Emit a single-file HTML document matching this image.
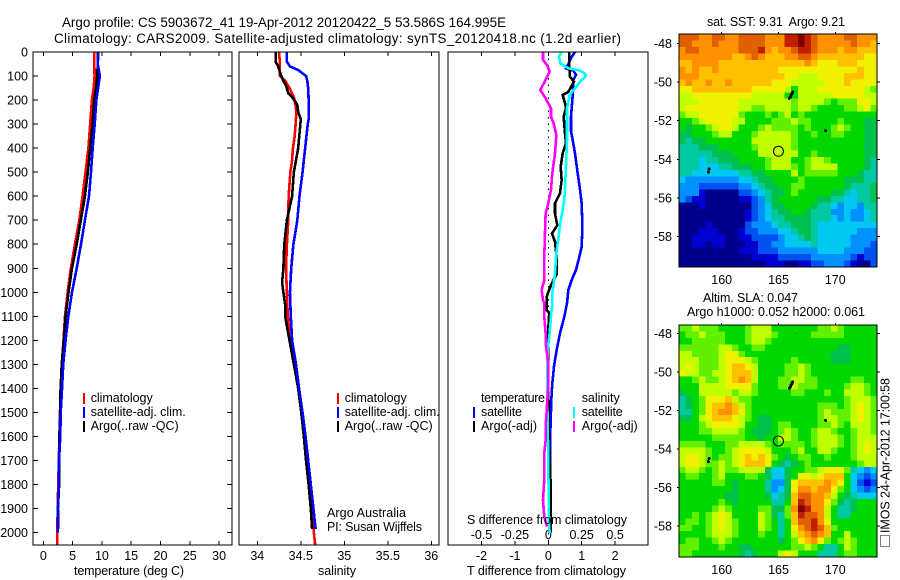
<!DOCTYPE html>
<html>
<head>
<meta charset="utf-8">
<title>Argo profile</title>
<style>
html,body{margin:0;padding:0;background:#fff;}
svg{display:block;}
text{font-family:"Liberation Sans",sans-serif;font-size:12.5px;fill:#000;}
text.big{font-size:13.4px;}
</style>
</head>
<body>
<svg id="fig" width="900" height="580" viewBox="0 0 900 580" xmlns="http://www.w3.org/2000/svg">
<rect width="900" height="580" fill="#fff"/>
<text class="big" x="62" y="27" textLength="444" lengthAdjust="spacing">Argo profile: CS 5903672_41 19-Apr-2012 20120422_5 53.586S 164.995E</text>
<text class="big" x="54" y="43" textLength="567" lengthAdjust="spacing">Climatology: CARS2009. Satellite-adjusted climatology: synTS_20120418.nc (1.2d earlier)</text>
<g id="plots"></g>
<text x="74" y="575" textLength="110" lengthAdjust="spacing">temperature (deg C)</text>
<text x="318" y="575" textLength="38" lengthAdjust="spacing">salinity</text>
<text x="467" y="575" textLength="159" lengthAdjust="spacing">T difference from climatology</text>
<text x="467" y="524" textLength="160" lengthAdjust="spacing">S difference from climatology</text>
<text x="327" y="517" textLength="79" lengthAdjust="spacing">Argo Australia</text>
<text x="327" y="531" textLength="95" lengthAdjust="spacing">PI: Susan Wijffels</text>
<text x="707" y="26" textLength="138" lengthAdjust="spacing">sat. SST: 9.31&#160; Argo: 9.21</text>
<text x="703" y="302" textLength="95" lengthAdjust="spacing">Altim. SLA: 0.047</text>
<text x="687" y="316" textLength="178" lengthAdjust="spacing">Argo h1000: 0.052 h2000: 0.061</text>
<rect x="880.5" y="535.5" width="9" height="11" fill="none" stroke="#000" stroke-width="1" stroke-dasharray="1 1" shape-rendering="crispEdges"/>
<text transform="translate(889.5,533) rotate(-90)" textLength="155" lengthAdjust="spacing">IMOS 24-Apr-2012 17:00:58</text>
</svg>
<script>
// ---- shared depth axis ----
const depthTicks = [0,100,200,300,400,500,600,700,800,900,1000,1100,1200,1300,1400,1500,1600,1700,1800,1900,2000];
const tempTicks = [0,5,10,15,20,25,30];
const salTicks = [34,34.5,35,35.5,36];
const diffTicks = [-2,-1,0,1,2];
const sDiffTicks = [-0.5,-0.25,0,0.25,0.5];
const lonTicks = [160,165,170];
const latTicks = [-48,-50,-52,-54,-56,-58];

// ---- temperature profiles ----
const tempDepths = [0,50,100,150,200,300,400,500,600,700,800,900,1000,1100,1200,1300,1400,1500,1600,1700,1800,1900,2000,2050];
const tempClim = [8.7,8.72,8.75,8.6,8.3,8.0,7.7,7.2,6.7,6.15,5.4,4.7,4.15,3.7,3.45,3.15,2.95,2.85,2.75,2.65,2.55,2.45,2.4,2.35];
const tempArgo = [9.3,9.3,9.2,9.0,8.7,8.4,8.0,7.6,7.1,6.4,5.7,4.9,4.3,3.8,3.5,3.15,2.95,2.9,2.75,2.75,2.7,2.5,2.55];
const tempArgoDepths = [0,50,100,150,200,300,400,500,600,700,800,900,1000,1100,1200,1300,1400,1500,1600,1700,1800,1900,1985];
const tempSat = [9.4,9.3,9.65,9.35,9.05,8.77,8.43,8.14,7.8,7.1,6.43,5.7,4.9,4.27,3.8,3.4,3.2,2.97,2.9,2.68,2.63,2.5,2.46];
const tempSatDepths = [0,50,100,150,200,300,400,500,600,700,800,900,1000,1100,1200,1300,1400,1500,1600,1700,1800,1900,2000];

// ---- salinity profiles ----
const salClimDepths = [0,50,100,120,150,180,200,250,300,350,400,450,500,600,700,800,900,1000,1100,1200,1300,1400,1500,1600,1700,1800,1900,2000,2050];
const salClim = [34.25,34.26,34.26,34.32,34.37,34.41,34.43,34.45,34.44,34.43,34.41,34.40,34.38,34.36,34.356,34.34,34.33,34.34,34.35,34.38,34.44,34.48,34.51,34.55,34.575,34.605,34.635,34.65,34.665];
const salSatDepths = [0,40,60,75,100,120,150,200,280,300,400,500,600,700,800,900,1000,1100,1200,1300,1400,1500,1600,1700,1800,1900,1985];
const salSat = [34.34,34.34,34.375,34.47,34.56,34.575,34.585,34.59,34.59,34.58,34.55,34.52,34.485,34.46,34.415,34.39,34.375,34.385,34.40,34.445,34.48,34.52,34.555,34.585,34.615,34.645,34.67];
const salArgoDepths = [0,40,60,90,120,140,170,190,220,250,280,320,400,450,500,600,650,700,800,900,960,1000,1050,1100,1200,1300,1400,1500,1600,1700,1800,1900,1985];
const salArgo = [34.21,34.21,34.24,34.265,34.30,34.33,34.355,34.405,34.46,34.47,34.50,34.49,34.47,34.445,34.42,34.40,34.37,34.34,34.31,34.30,34.285,34.30,34.32,34.32,34.37,34.42,34.47,34.505,34.535,34.56,34.59,34.615,34.63];

// ---- difference profiles ----
const dTSatDepths = [0,20,50,68,78,95,116,144,200,269,331,366,422,505,574,630,727,810,852,907,949,990,1046,1101,1171,1240,1309,1379,1448,1587,1656,1800,1900,2000];
const dTSat = [0.80,0.70,0.60,0.53,0.75,0.83,0.75,0.75,0.72,0.68,0.68,0.73,0.80,0.88,0.95,1.0,1.02,1.0,0.93,0.83,0.70,0.60,0.56,0.48,0.35,0.25,0.17,0.12,0.09,0.06,0.06,0.05,0.04,0.03];
const dTArgoDepths = [0,61,103,123,166,179,213,234,269,338,380,422,477,533,588,630,672,721,755,790,852,925,963,1018,1073,1087,1115,1200,1400,1600,1800,1950,2000];
const dTArgo = [0.63,0.63,0.65,0.77,0.60,0.43,0.50,0.53,0.46,0.50,0.53,0.43,0.37,0.40,0.35,0.20,0.20,0.27,0.11,0.20,0.25,0.25,0.10,-0.05,-0.05,0.03,0.01,0,0,0.02,0.07,0.07,0.07];
const dSSatDepths = [0,19,47,68,78,88,95,105,116,151,179,234,366,505,616,713,838,921,1004,1046,1101,1171,1240,1309,1448,1587,1642,1725,1975,2003];
const dSSat = [0.10,0.08,0.09,0.15,0.24,0.27,0.28,0.275,0.25,0.20,0.16,0.14,0.14,0.13,0.12,0.09,0.06,0.05,0.03,0.03,0.02,0.01,-0.005,-0.007,-0.007,-0.005,0,0,0.006,0.012];
const dSArgoDepths = [0,33,54,82,116,158,193,234,269,297,345,422,505,574,630,672,755,852,949,990,1032,1046,1101,1171,1212,1254,1295,1392,1448,1559,1615,1670,1780,1864,1933,1975];
const dSArgo = [-0.04,-0.04,-0.01,0.01,-0.02,-0.06,-0.02,0.02,0.02,0.04,0.06,0.05,0.03,0.02,0,-0.02,-0.025,-0.03,-0.03,-0.05,-0.04,-0.03,-0.03,-0.02,-0.02,-0.01,0,0,-0.007,-0.02,-0.02,-0.03,-0.03,-0.04,-0.03,-0.01];

// ---- map data ----
const colorLevels = ['#00008c','#0000d0','#0050f0','#0090ff','#00c8f0','#00c8a0','#00c050','#00d800','#60f000','#c0ff00','#f0f000','#ffc000','#ff9000','#e06000','#c02000','#800000'];
const sstLevels = [
[13,13,13,12,12,13,13,12,12,13,13,13,13,12,12,12,14,14,15,14,13,12,12,12,12,13,13,12,12,12],
[13,13,12,12,12,13,12,12,12,13,13,13,13,12,12,12,14,14,15,14,13,12,12,12,12,12,13,12,12,11],
[12,13,13,12,12,12,12,12,12,13,13,13,14,12,11,12,12,13,14,14,13,12,12,12,11,12,12,11,11,11],
[12,12,12,12,12,12,12,12,11,11,12,13,12,11,11,11,12,12,13,13,12,11,11,11,11,11,11,11,10,10],
[11,11,12,12,12,12,11,11,11,11,11,11,11,11,11,11,11,11,11,12,11,10,10,10,11,11,11,10,10,10],
[12,11,12,11,11,12,11,11,11,11,11,11,11,11,11,10,10,10,10,10,10,10,10,10,10,10,10,11,10,10],
[12,12,12,11,11,11,11,11,11,11,11,11,11,11,11,11,10,10,9,9,9,10,10,10,10,11,11,11,10,10],
[11,12,11,11,12,11,11,12,11,11,11,11,11,11,10,10,10,9,9,9,9,9,10,10,10,11,10,10,10,10],
[10,10,11,11,11,11,11,11,11,11,11,10,10,10,10,10,9,7,9,9,9,10,10,10,10,10,10,10,9,8],
[9,9,10,10,10,10,10,10,10,10,10,9,9,9,9,9,7,7,9,9,9,9,9,10,10,10,10,10,9,9],
[9,9,9,10,10,10,10,10,10,9,9,9,9,9,9,9,9,8,9,9,9,9,8,7,8,8,8,10,10,9],
[9,10,10,10,10,10,10,10,10,9,9,8,8,9,9,9,9,8,9,9,8,7,7,7,7,8,8,9,10,8],
[8,9,9,10,10,10,10,10,10,8,7,7,7,8,7,8,9,7,8,7,7,7,7,7,7,7,7,7,7,7],
[7,7,8,9,10,10,10,10,9,9,7,7,7,7,8,8,8,9,8,8,7,7,7,7,8,7,7,7,6,6],
[7,6,7,7,8,9,10,10,9,7,7,7,8,9,8,8,8,8,7,8,7,7,7,8,9,8,7,7,6,6],
[6,6,7,7,7,8,9,9,7,7,7,8,9,9,9,9,9,8,7,7,8,7,7,8,8,7,7,7,6,6],
[6,5,6,6,7,7,7,7,7,7,7,9,9,9,9,9,9,8,7,7,7,7,7,7,7,7,7,7,6,6],
[5,5,5,6,6,6,7,7,7,7,7,8,9,9,9,9,9,8,7,7,7,7,7,7,7,7,7,7,6,6],
[5,5,5,5,5,6,6,6,7,7,7,7,9,9,9,9,9,9,7,7,8,7,7,7,7,7,7,7,6,6],
[5,5,5,4,5,5,6,6,6,7,7,7,7,8,9,9,9,7,7,8,9,9,8,7,7,7,7,7,6,5],
[5,5,5,4,4,4,5,5,6,6,6,7,7,8,9,9,9,8,7,8,9,9,9,9,7,7,7,7,6,5],
[5,5,4,4,4,4,4,4,4,5,5,6,6,7,7,7,7,9,7,8,8,8,8,8,7,7,7,6,5,5],
[4,3,3,3,3,3,3,3,3,4,4,5,6,6,7,7,7,7,8,7,7,7,7,7,7,6,6,6,5,5],
[3,3,3,2,2,2,2,2,2,3,3,4,5,6,6,7,7,8,8,7,7,7,7,7,7,6,5,5,5,6],
[3,3,3,1,0,0,0,0,0,2,2,3,4,5,6,6,7,8,7,7,7,7,7,6,6,5,4,5,5,6],
[3,2,1,1,0,0,0,0,0,1,1,2,3,5,6,7,7,7,7,7,7,6,6,5,5,4,4,5,5,6],
[0,0,0,1,0,0,0,0,0,0,0,2,3,4,6,6,7,7,7,7,6,5,5,4,3,4,4,3,5,5],
[0,0,0,0,0,0,0,0,0,0,1,2,3,4,5,6,6,7,7,6,5,5,5,3,3,4,3,3,4,5],
[0,0,0,0,0,0,0,0,0,0,1,2,3,4,5,5,6,6,6,6,5,5,5,4,3,4,3,3,4,5],
[0,0,0,0,1,0,0,0,0,0,2,3,3,3,4,5,5,6,6,6,5,4,4,4,4,4,4,4,4,4],
[0,0,0,1,1,1,0,0,0,1,2,2,3,3,3,4,4,5,6,6,5,4,4,4,4,4,4,3,3,3],
[0,0,1,1,1,1,1,0,0,1,1,2,2,2,2,3,4,4,5,6,5,4,4,4,4,4,3,3,3,3],
[0,0,1,1,0,1,1,0,0,0,1,1,2,2,3,3,4,4,4,4,5,4,4,4,4,4,3,3,3,2],
[0,0,0,0,0,0,0,0,0,1,1,1,2,2,2,3,3,3,3,3,3,4,4,4,4,3,3,3,2,2],
[0,0,0,0,0,0,0,0,0,0,0,1,1,1,1,2,2,2,2,2,3,3,3,3,3,3,2,1,2,2],
[0,0,0,0,0,0,0,0,0,0,0,0,0,1,1,1,0,0,1,1,2,2,3,3,3,2,1,0,0,2]
];
const slaLevels = [
[8,8,9,8,8,8,7,7,7,7,8,9,9,9,7,7,7,7,7,7,7,8,8,9,8,7,7,7,7,7],
[7,8,8,9,8,8,8,7,7,7,8,9,9,9,8,7,7,7,7,7,8,8,8,8,8,7,7,7,7,7],
[7,7,8,8,8,8,8,7,7,7,8,9,9,8,7,7,7,7,7,7,7,7,7,7,7,7,7,7,7,7],
[8,8,8,8,8,8,9,9,8,7,7,8,8,7,7,7,7,7,7,7,7,7,7,7,6,6,7,7,7,7],
[9,9,8,8,8,8,9,10,10,8,7,7,7,7,7,7,7,7,7,7,7,7,7,6,6,6,7,7,7,7],
[9,9,9,8,8,8,9,10,10,10,9,8,7,7,7,7,7,8,7,7,7,7,7,6,6,6,7,7,7,7],
[9,10,9,8,8,8,9,10,11,11,10,9,7,7,7,7,8,8,9,8,7,7,7,7,7,7,7,7,7,7],
[10,9,9,8,8,9,9,10,11,11,11,9,7,7,7,7,8,8,9,8,7,7,7,7,7,7,7,7,7,7],
[7,7,8,9,8,8,9,10,11,12,11,9,7,7,7,8,8,9,9,8,8,7,7,7,7,7,8,8,7,7],
[7,7,7,9,9,9,9,10,10,10,10,8,7,7,7,8,8,9,8,8,8,7,7,7,7,8,9,9,8,7],
[6,7,7,9,9,9,9,9,8,9,9,8,7,7,7,7,7,8,8,7,7,7,8,7,7,9,9,9,8,7],
[5,6,7,8,10,10,10,11,9,8,8,7,7,7,7,7,7,7,7,7,7,7,7,7,7,8,9,9,9,8],
[5,6,7,8,10,11,11,12,11,9,8,7,7,7,7,7,7,7,7,7,7,8,8,8,7,8,9,10,9,8],
[5,5,7,8,10,11,12,12,11,10,8,7,7,7,7,7,7,7,7,7,7,8,9,8,8,8,9,10,9,8],
[6,6,7,9,10,11,11,11,10,9,8,7,6,6,7,7,7,7,7,7,7,8,9,9,8,8,9,10,9,8],
[7,7,7,8,9,10,10,10,10,9,7,7,6,6,7,8,8,7,7,7,7,8,8,9,8,7,9,9,9,8],
[7,7,7,8,8,9,9,9,9,8,7,6,6,6,7,8,9,8,7,7,8,9,9,8,7,7,8,9,9,8],
[7,7,7,7,7,8,8,8,8,8,7,7,6,7,7,9,9,8,7,7,8,9,9,9,8,7,8,9,9,9],
[8,8,8,8,7,7,7,8,8,9,9,9,9,8,7,8,8,8,8,7,8,9,9,9,8,7,8,9,10,9],
[9,9,9,9,8,7,7,8,9,10,10,10,10,9,7,7,7,8,9,7,7,9,9,8,7,7,8,9,10,9],
[9,10,10,9,8,7,8,8,9,10,11,10,11,10,8,7,6,7,8,8,7,7,8,7,7,7,8,9,9,9],
[9,10,10,9,8,8,9,8,9,10,11,11,11,10,7,6,5,6,7,8,7,7,7,7,7,7,7,8,9,9],
[8,9,9,8,7,8,9,8,8,9,9,9,9,6,4,4,6,7,7,8,8,9,10,10,10,8,5,4,3,4],
[7,8,8,7,7,8,9,7,7,7,8,8,7,6,4,4,6,7,10,10,9,10,11,11,11,7,4,3,2,3],
[7,7,7,7,7,8,8,7,6,7,7,7,7,5,3,3,6,10,11,11,11,11,12,11,10,7,4,2,1,2],
[7,7,7,7,7,7,7,7,6,7,7,7,7,5,3,4,6,10,12,12,11,12,12,10,8,7,4,3,2,3],
[7,7,7,7,7,7,7,6,6,7,7,7,7,6,4,5,6,11,13,13,12,12,11,9,7,6,5,4,4,4],
[7,7,7,7,7,7,8,7,6,7,7,7,7,7,5,5,7,11,14,13,12,12,10,8,6,5,6,7,7,7],
[7,7,7,7,7,8,9,8,7,7,7,7,8,8,6,6,8,12,15,14,12,12,9,7,5,5,6,7,7,7],
[7,7,8,7,8,9,10,9,7,7,7,7,9,8,6,5,8,11,14,13,13,12,9,7,5,5,7,7,7,7],
[7,8,8,7,8,9,10,9,8,7,7,7,9,8,7,5,7,11,13,13,14,12,10,7,7,7,7,7,7,7],
[8,8,7,7,8,9,10,9,8,7,7,7,9,8,7,5,7,10,12,13,14,13,11,8,7,7,7,7,7,7],
[7,7,7,7,8,9,9,9,8,7,7,7,8,7,7,5,7,9,11,12,13,12,11,7,7,9,7,7,7,7],
[7,8,8,7,7,8,9,8,7,7,7,7,7,7,7,6,7,8,10,11,12,10,8,7,8,9,8,7,7,7],
[8,8,8,7,7,7,8,7,7,6,6,7,7,7,7,7,7,8,8,9,8,7,5,5,7,9,8,7,7,7],
[8,8,7,7,7,7,7,7,7,6,5,6,7,7,7,9,10,9,7,7,7,5,5,5,7,8,8,7,7,7]
];
const floatLons = [166.25,166.2,166.1,166.05,165.95,169.15,158.9,158.83,166.54];
const floatLats = [-50.52,-50.6,-50.7,-50.78,-50.85,-52.52,-54.5,-54.66,-48];
const profileLon = 164.995;
const profileLat = -53.586;

// ---- axis functions ----
const NS = 'http://www.w3.org/2000/svg';
const plots = document.getElementById('plots');
const yD = d => 52 + d * 0.2403;
const xTemp = v => 43.3 + v * 5.86;
const xSal = v => 257.3 + (v - 34) * 87;
const xDT = v => 548.3 + v * 33.4;
const xDS = v => 548.3 + v * 133.6;
const xLon = v => 721.7 + (v - 160) * 11.36;
const yLat1 = v => 43.3 + (-48 - v) * 19.33;
const yLat2 = v => 333.3 + (-48 - v) * 19.27;

function mk(tag, attrs) {
  const el = document.createElementNS(NS, tag);
  for (const k in attrs) el.setAttribute(k, attrs[k]);
  plots.appendChild(el);
  return el;
}
function tick(x1, y1, x2, y2, name) {
  const el = mk('line', {x1: x1, y1: y1, x2: x2, y2: y2, stroke: '#000', 'stroke-width': 1, 'shape-rendering': 'crispEdges'});
  
  
}
function label(x, y, str, anchor, name, len) {
  const el = mk('text', {x: x, y: y, 'text-anchor': anchor});
  if (len) { el.setAttribute('textLength', len); el.setAttribute('lengthAdjust', 'spacing'); }
  el.textContent = str;
  
  
}
function box(x, y, w, h, name) {
  const el = mk('rect', {x: x, y: y, width: w, height: h, fill: 'none', stroke: '#000', 'stroke-width': 1, 'shape-rendering': 'crispEdges'});
  
  
}
function profile(depths, values, sx, color, name) {
  const pts = [];
  for (let i = 0; i < depths.length && i < values.length; i++) pts.push(sx(values[i]).toFixed(2) + ',' + yD(depths[i]).toFixed(2));
  const el = mk('polyline', {points: pts.join(' '), fill: 'none', stroke: color, 'stroke-width': 2.6, 'stroke-linejoin': 'miter', 'shape-rendering': 'crispEdges'});
  
  
}
function legendBar(x, y, color, name) {
  const el = mk('rect', {x: x, y: y, width: 2, height: 11, fill: color, 'shape-rendering': 'crispEdges'});
  
  
}

// ---- panel frames & ticks ----
const PT = 52, PB = 545;
function panelTicks(vals, sx, name) {
  vals.forEach(v => {
    tick(sx(v), PT, sx(v), PT + 4, name);
    tick(sx(v), PB, sx(v), PB - 4, name);
  });
}
depthTicks.forEach(d => {
  tick(33, yD(d), 38, yD(d), 'depth-tick');
  tick(232, yD(d), 227, yD(d), 'depth-tick');
  label(28, yD(d) + 4.5, String(d), 'end', 'depth-tick-label');
});
panelTicks(tempTicks, xTemp, 'temperature-tick');
panelTicks(salTicks, xSal, 'salinity-tick');
panelTicks(diffTicks, xDT, 't-difference-tick');
tempTicks.forEach(v => label(xTemp(v), 560, String(v), 'middle', 'temperature-tick-label'));
salTicks.forEach(v => label(xSal(v), 560, String(v), 'middle', 'salinity-tick-label'));
diffTicks.forEach(v => label(xDT(v), 560, String(v), 'middle', 't-difference-tick-label'));
sDiffTicks.forEach(v => label(xDS(v), 539, String(v), 'middle', 's-difference-tick-label'));

// ---- temperature series ----
profile(tempDepths, tempClim, xTemp, '#ff0000', 'temperature-climatology-line');
profile(tempArgoDepths, tempArgo, xTemp, '#000000', 'temperature-argo-line');
profile(tempSatDepths, tempSat, xTemp, '#0000ff', 'temperature-satellite-line');
// ---- salinity series ----
profile(salClimDepths, salClim, xSal, '#ff0000', 'salinity-climatology-line');
profile(salArgoDepths, salArgo, xSal, '#000000', 'salinity-argo-line');
profile(salSatDepths, salSat, xSal, '#0000ff', 'salinity-satellite-line');
// ---- difference series ----
const zeroLine = mk('line', {x1: xDT(0), y1: PT, x2: xDT(0), y2: PB, stroke: '#000', 'stroke-width': 1, 'stroke-dasharray': '1.5 5', 'shape-rendering': 'crispEdges'});


profile(dTSatDepths, dTSat, xDT, '#0000ff', 't-difference-satellite-line');
profile(dTArgoDepths, dTArgo, xDT, '#000000', 't-difference-argo-line');
profile(dSSatDepths, dSSat, xDS, '#00ffff', 's-difference-satellite-line');
profile(dSArgoDepths, dSArgo, xDS, '#ff00ff', 's-difference-argo-line');

box(33, PT, 199, PB - PT, 'temperature-panel-frame');
box(239, PT, 200, PB - PT, 'salinity-panel-frame');
box(448, PT, 200, PB - PT, 'difference-panel-frame');

// ---- legends ----
const legendYs = [402, 416, 430];
const legendLabels = ['climatology', 'satellite-adj. clim.', 'Argo(..raw -QC)'];
const legendWidths = [62, 95, 88];
const legendColors = ['#ff0000', '#0000ff', '#000000'];
legendLabels.forEach((s, i) => {
  legendBar(83, legendYs[i] - 9, legendColors[i], 'temperature-legend-swatch');
  label(90.7, legendYs[i], s, 'start', 'temperature-legend-label', legendWidths[i]);
  legendBar(337, legendYs[i] - 9, legendColors[i], 'salinity-legend-swatch');
  label(344.7, legendYs[i], s, 'start', 'salinity-legend-label', legendWidths[i]);
});
label(481, 402, 'temperature', 'start', 'difference-legend-temperature-heading', 64);
label(481, 416, 'satellite', 'start', 'difference-legend-t-satellite-label', 41);
label(481, 430, 'Argo(-adj)', 'start', 'difference-legend-t-argo-label', 56);
label(581.7, 402, 'salinity', 'start', 'difference-legend-salinity-heading', 38);
label(581.7, 416, 'satellite', 'start', 'difference-legend-s-satellite-label', 41);
label(581.7, 430, 'Argo(-adj)', 'start', 'difference-legend-s-argo-label', 56);
legendBar(473, 407, '#0000ff', 'difference-legend-t-satellite-swatch');
legendBar(473, 421, '#000000', 'difference-legend-t-argo-swatch');
legendBar(573, 407, '#00ffff', 'difference-legend-s-satellite-swatch');
legendBar(573, 421, '#ff00ff', 'difference-legend-s-argo-swatch');

// ---- maps ----
function drawMap(grid, x0, y0, w, h, yLat, mapName) {
  const rh = h / grid.length;
  grid.forEach((row, j) => {
    const cw = w / row.length;
    row.forEach((lv, i) => {
      const cell = mk('rect', {x: (x0 + i * cw).toFixed(2), y: (y0 + j * rh).toFixed(2), width: (cw + 0.5).toFixed(2), height: (rh + 0.5).toFixed(2), fill: colorLevels[lv], 'shape-rendering': 'crispEdges'});
      
      
    });
  });
  floatLons.forEach((lon, i) => {
    const dot = mk('circle', {cx: xLon(lon).toFixed(2), cy: yLat(floatLats[i]).toFixed(2), r: i === 8 ? 0.5 : 1.5, fill: '#000', 'shape-rendering': 'crispEdges'});
    
    
  });
  const ring = mk('circle', {cx: xLon(profileLon).toFixed(2), cy: yLat(profileLat).toFixed(2), r: 5, fill: 'none', stroke: '#000', 'stroke-width': 1});
  
  
  box(x0, y0, w, h, mapName + '-frame');
  lonTicks.forEach(v => {
    tick(xLon(v), y0, xLon(v), y0 - 2, 'map-longitude-tick');
    label(xLon(v), y0 + h + 17, String(v), 'middle', 'map-longitude-label');
  });
  latTicks.forEach(v => {
    tick(x0, yLat(v), x0 - 2, yLat(v), 'map-latitude-tick');
    tick(x0 + w, yLat(v), x0 + w + 3, yLat(v), 'map-latitude-tick');
    label(672, yLat(v) + 4.5, String(v), 'end', 'map-latitude-label');
  });
}
drawMap(sstLevels, 679, 34, 198, 233, yLat1, 'sst-map');
drawMap(slaLevels, 679, 325, 198, 232, yLat2, 'sla-map');
</script>
</body>
</html>
